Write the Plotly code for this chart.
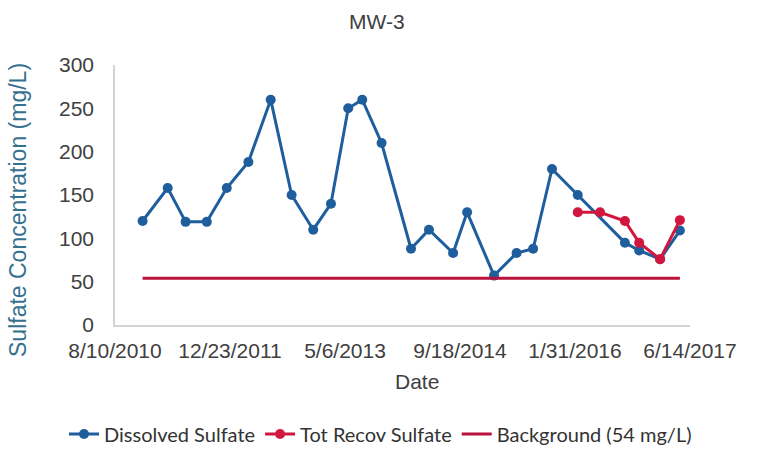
import plotly.graph_objects as go

# Data
dissolved_dates = ["2010-12-08", "2011-03-27", "2011-06-13", "2011-09-13", "2011-12-09",
                   "2012-03-12", "2012-06-17", "2012-09-16", "2012-12-19", "2013-03-06",
                   "2013-05-20", "2013-07-20", "2013-10-12", "2014-02-17", "2014-05-06",
                   "2014-08-19", "2014-10-19", "2015-02-13", "2015-05-22", "2015-08-02",
                   "2015-10-23", "2016-02-12", "2016-09-04", "2016-11-05", "2017-02-04",
                   "2017-05-01"]
dissolved_vals = [120, 158, 119, 119, 158, 188, 260, 150, 110, 140, 250, 260, 210, 88,
                  110, 83, 130, 57, 83, 88, 180, 150, 95, 86, 76, 109]

totrecov_dates = ["2016-02-12", "2016-05-19", "2016-09-04", "2016-11-05", "2017-02-04", "2017-05-01"]
totrecov_vals = [130, 130, 120, 95, 76, 121]

background_dates = ["2010-12-08", "2017-05-01"]
background_vals = [54, 54]

tick_dates = ["2010-08-10", "2011-12-23", "2013-05-06", "2014-09-18", "2016-01-31", "2017-06-14"]
tick_labels = ["8/10/2010", "12/23/2011", "5/6/2013", "9/18/2014", "1/31/2016", "6/14/2017"]
y_ticks = [0, 50, 100, 150, 200, 250, 300]

BLUE = "#1F5E9C"
RED = "#D2173F"
DARKRED = "#B8123C"
FONT = "Liberation Sans"

fig = go.Figure()
fig.add_trace(go.Scatter(x=dissolved_dates, y=dissolved_vals, mode="lines+markers",
                         name="Dissolved Sulfate",
                         line=dict(color=BLUE, width=3), marker=dict(color=BLUE, size=10)))
fig.add_trace(go.Scatter(x=totrecov_dates, y=totrecov_vals, mode="lines+markers",
                         name="Tot Recov Sulfate",
                         line=dict(color=RED, width=3), marker=dict(color=RED, size=10)))
fig.add_trace(go.Scatter(x=background_dates, y=background_vals, mode="lines",
                         name="Background (54 mg/L)",
                         line=dict(color=DARKRED, width=3)))

fig.update_layout(
    width=760, height=449,
    margin=dict(l=115, r=70, t=65, b=124, autoexpand=False),
    paper_bgcolor="white", plot_bgcolor="white",
    font=dict(family=FONT, color="#404040", size=19),
    showlegend=True,
    legend=dict(orientation="h", xref="paper", x=(64 - 115) / 575, xanchor="left",
                yref="paper", y=(325 - 434) / 260, yanchor="middle",
                font=dict(family="Lato", size=20, color="#333333"),
                itemwidth=30, tracegroupgap=0, bgcolor="rgba(0,0,0,0)"),
    annotations=[
        dict(text="MW-3", xref="paper", yref="paper", x=(377 - 115) / 575, y=(325 - 22) / 260,
             showarrow=False, font=dict(family=FONT, size=21, color="#404040"),
             xanchor="center", yanchor="middle"),
        dict(text="Date", xref="paper", yref="paper", x=(417 - 115) / 575, y=(325 - 381) / 260,
             showarrow=False, font=dict(family=FONT, size=21, color="#404040"),
             xanchor="center", yanchor="middle"),
        dict(text="Sulfate Concentration (mg/L)", xref="paper", yref="paper",
             x=(18 - 115) / 575, y=(325 - 210) / 260, textangle=-90,
             showarrow=False, font=dict(family=FONT, size=23, color="#35708E"),
             xanchor="center", yanchor="middle"),
    ],
)
fig.update_xaxes(type="date", range=["2010-08-10", "2017-06-14"],
                 tickvals=tick_dates, ticktext=tick_labels, automargin=False,
                 showline=True, linecolor="#D4D4D4", linewidth=1.5,
                 showgrid=False, zeroline=False,
                 ticks="outside", ticklen=6, tickcolor="rgba(0,0,0,0)",
                 tickfont=dict(family=FONT, size=21, color="#404040"))
fig.update_yaxes(range=[0, 300], tickvals=y_ticks, automargin=False,
                 showline=True, linecolor="#D4D4D4", linewidth=1.5,
                 showgrid=False, zeroline=False,
                 ticks="outside", ticklen=15, tickcolor="rgba(0,0,0,0)",
                 tickfont=dict(family=FONT, size=21, color="#404040"))

fig.write_html("out.html", config={"displayModeBar": False},
               post_script="document.body.style.margin='0';")
